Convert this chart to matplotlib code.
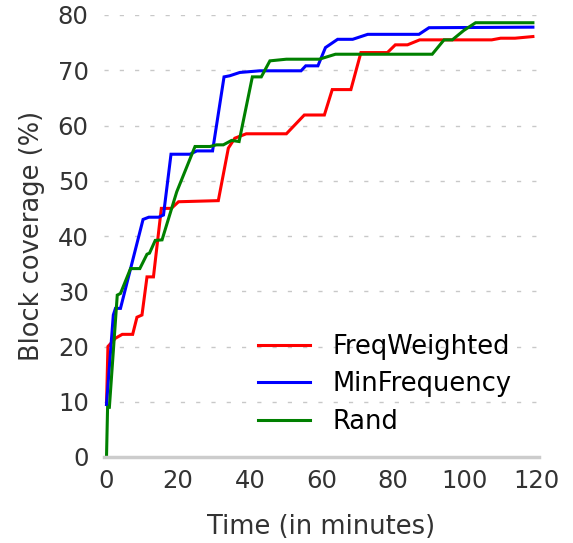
import matplotlib
matplotlib.use("Agg")
import matplotlib.pyplot as plt

# Coverage curves (time in minutes, block coverage in %)
freq_t = [0, 0.4, 2.5, 4.4, 7.3, 8.5, 9.9, 11.3, 13.1, 15.3, 18.1, 20.1, 31.2,
          34.0, 35.8, 39.0, 50.2, 55.2, 60.8, 63.0, 68.2, 71.0, 78.4, 80.6,
          84.0, 87.4, 107.5, 110.0, 114.0, 119.0]
freq_v = [9.5, 20.0, 21.5, 22.2, 22.2, 25.3, 25.7, 32.6, 32.6, 45.0, 45.0, 46.2,
          46.4, 55.9, 57.7, 58.5, 58.5, 61.9, 61.9, 66.5, 66.5, 73.2, 73.2,
          74.6, 74.6, 75.5, 75.5, 75.8, 75.8, 76.1]

minf_t = [0, 1.9, 2.5, 3.9, 10.2, 11.8, 14.5, 15.9, 18.0, 23.3, 25.2, 29.6,
          32.8, 34.4, 37.2, 42.8, 54.3, 55.6, 59.0, 61.1, 64.5, 68.7, 72.9,
          87.2, 90.0, 119.0]
minf_v = [9.5, 25.7, 26.9, 26.9, 43.0, 43.4, 43.4, 43.8, 54.8, 54.8, 55.4, 55.4,
          68.8, 69.0, 69.6, 69.9, 69.9, 70.8, 70.8, 74.1, 75.6, 75.6, 76.5,
          76.5, 77.7, 77.8]

rand_t = [0, 0.3, 0.8, 3.0, 3.9, 6.7, 9.3, 11.3, 12.0, 13.6, 15.5, 19.6, 24.7,
          28.9, 30.7, 32.6, 34.9, 37.0, 40.7, 43.2, 45.6, 50.2, 59.4, 63.9,
          90.9, 94.2, 96.5, 99.7, 103.0, 119.0]
rand_v = [0, 9.0, 9.0, 29.3, 29.6, 34.1, 34.1, 36.7, 36.9, 39.2, 39.3, 48.0, 56.2,
          56.2, 56.5, 56.5, 57.3, 57.1, 68.8, 68.8, 71.7, 72.0, 72.0, 72.9,
          72.9, 75.5, 75.5, 77.2, 78.6, 78.6]

series = [
    ("FreqWeighted", freq_t, freq_v, "red"),
    ("MinFrequency", minf_t, minf_v, "blue"),
    ("Rand", rand_t, rand_v, "green"),
]

x_ticks = [0, 20, 40, 60, 80, 100, 120]
y_ticks = [0, 10, 20, 30, 40, 50, 60, 70, 80]

text_color = "#333333"
plt.rcParams["font.family"] = ["DejaVu Sans"]
plt.rcParams["font.size"] = 18

fig = plt.figure(figsize=(5.73, 5.43), dpi=100)
ax = fig.add_axes([104 / 573, 1 - 457 / 543, 435 / 573, 442 / 543])

for name, t, v, c in series:
    ax.plot(t, v, color=c, lw=2.2, label=name, solid_joinstyle="miter")

ax.set_xlim(-0.7, 120.7)
ax.set_ylim(0, 80)
ax.set_xticks(x_ticks)
ax.set_yticks(y_ticks)
ax.tick_params(axis="both", length=0, labelsize=17.5, colors=text_color)
ax.tick_params(axis="y", pad=11)
ax.tick_params(axis="x", pad=9)

ax.grid(axis="y", color="#c8c8c8", lw=1.0, linestyle=(0, (3, 8)))
ax.grid(axis="x", visible=False)
ax.set_axisbelow(True)

for side in ("top", "right", "left"):
    ax.spines[side].set_visible(False)
ax.spines["bottom"].set_color("#cccccc")
ax.spines["bottom"].set_linewidth(2.5)

ax.set_xlabel("Time (in minutes)", fontsize=18.5, color=text_color, labelpad=15)
ax.set_ylabel("Block coverage (%)", fontsize=18.5, color=text_color, labelpad=9)

ax.legend(loc="center left", frameon=False, fontsize=18.5, handlelength=2.0,
          handletextpad=0.9, labelspacing=0.45, borderaxespad=0,
          bbox_to_anchor=(0.331, 0.165))

fig.savefig("out.png", dpi=100)
